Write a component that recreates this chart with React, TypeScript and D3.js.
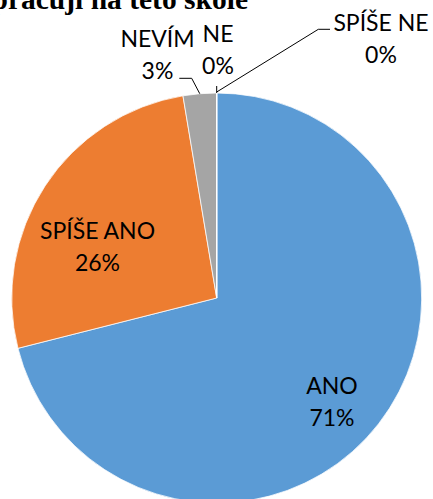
import React from "react";
import * as d3 from "d3";

const categories = ["ANO", "SPÍŠE ANO", "NEVÍM", "NE", "SPÍŠE NE"];
const counts = [27, 10, 1, 0, 0];
const percentLabels = ["71%", "26%", "3%", "0%", "0%"];
const colors = ["#5B9BD5", "#ED7D31", "#A5A5A5", "#FFC000", "#4472C4"];

const W = 433;
const H = 499;
const cx = 216.7;
const cy = 298;
const R = 205;

// label layout (center x, first baseline y)
const labelLayout: Record<string, { x: number; y: number }> = {
  "ANO": { x: 332, y: 394 },
  "SPÍŠE ANO": { x: 97.5, y: 238.5 },
  "NEVÍM": { x: 157.5, y: 47 },
  "NE": { x: 218, y: 42 },
  "SPÍŠE NE": { x: 381, y: 31 },
};
const lineGap = 32;

export default function App() {
  const data = categories.map((c, i) => ({ name: c, value: counts[i], pct: percentLabels[i], color: colors[i] }));
  const pie = d3.pie<any>().sort(null).value((d: any) => d.value).startAngle(0).endAngle(2 * Math.PI);
  const arcs = pie(data);
  const arc = d3.arc<any>().innerRadius(0).outerRadius(R);
  const edge = (a: number) => [cx + R * Math.sin(a), cy - R * Math.cos(a)];

  const leaders: string[] = [];
  arcs.forEach((a) => {
    const mid = (a.startAngle + a.endAngle) / 2;
    const [ex, ey] = edge(mid);
    if (a.data.name === "NEVÍM") {
      leaders.push(`M${ex},${ey}L191.7,78.3L179.3,78.3`);
    } else if (a.data.name === "NE") {
      leaders.push(`M${ex},${ey}L${ex},86`);
    } else if (a.data.name === "SPÍŠE NE") {
      leaders.push(`M${ex},${ey - 1}L318.3,29.3L330,29.3`);
    }
  });

  return (
    <svg width={W} height={H} style={{ position: "absolute", left: 0, top: 0, background: "#fff" }}>
      <text x={248} y={8.5} textAnchor="end" fontFamily="'Liberation Serif', 'Times New Roman', serif" fontWeight="bold" fontSize={29.5} fill="#000">
        pracují na této škole
      </text>
      <g>
        {arcs.map((a, i) => (
          <path key={i} d={arc(a) as string} transform={`translate(${cx},${cy})`} fill={a.data.color} stroke="#fff" strokeWidth={0.75} />
        ))}
      </g>
      <g fill="none" stroke="#000" strokeWidth={1}>
        {leaders.map((d, i) => (
          <path key={i} d={d} />
        ))}
      </g>
      <g fontFamily="Lato, 'Open Sans', sans-serif" fontSize={23} fill="#000" textAnchor="middle">
        {arcs.map((a, i) => {
          const p = labelLayout[a.data.name];
          return (
            <text key={i} x={p.x} y={p.y}>
              <tspan x={p.x} y={p.y}>{a.data.name}</tspan>
              <tspan x={p.x} y={p.y + lineGap}>{a.data.pct}</tspan>
            </text>
          );
        })}
      </g>
    </svg>
  );
}
